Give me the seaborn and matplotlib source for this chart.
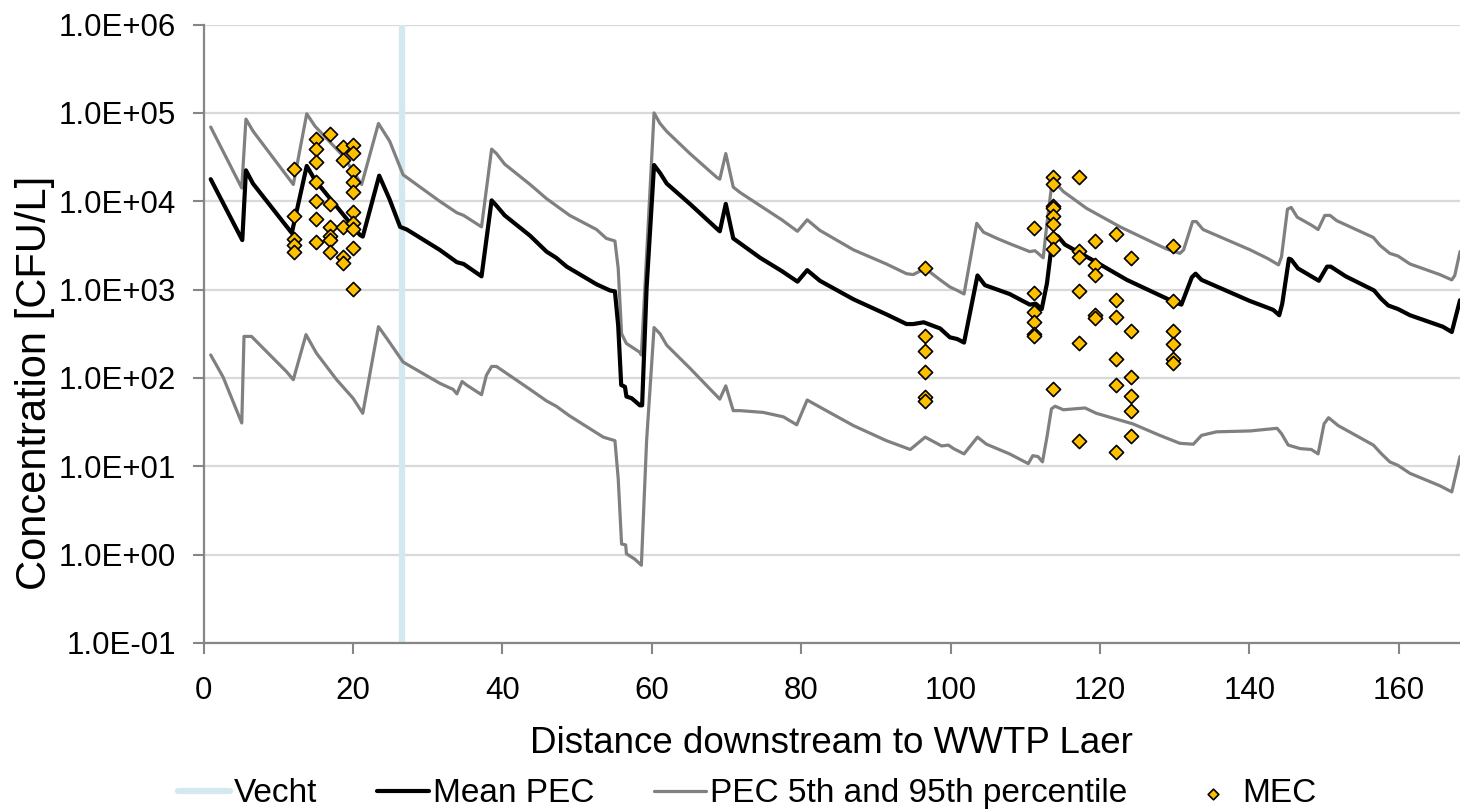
import matplotlib
matplotlib.use("Agg")
import numpy as np
import pandas as pd
import matplotlib.pyplot as plt
import seaborn as sns
from matplotlib.ticker import FixedLocator, FuncFormatter, NullLocator

# distance downstream of WWTP Laer [km]; concentrations as log10(CFU/L)
mean_km = [0.94, 5.17, 5.66, 6.6, 11.8, 13.8, 14.9, 20.9, 21.3, 23.5, 24.9, 26.3, 27.2, 31.6, 33.9,
           34.8, 37.2, 38.55, 39.2, 40.3, 43.7, 45.9, 47.2, 48.6, 52.6, 54.4, 55.06, 55.5, 55.9, 56.4,
           56.6, 57.3, 58.4, 58.7, 59.3, 60.3, 61.1, 62.0, 65.1, 68.7, 69.1, 69.9, 70.9, 74.5, 77.4,
           79.5, 80.8, 82.5, 87.0, 91.4, 94.1, 95.0, 96.4, 98.6, 99.9, 100.9, 101.8, 103.6, 104.6,
           107.9, 110.6, 111.4, 112.2, 112.9, 113.5, 114.0, 114.4, 115.3, 119.1, 123.6, 128.9, 129.9,
           130.9, 132.3, 132.8, 133.6, 140.1, 142.3, 143.2, 144.0, 144.4, 145.3, 145.6, 146.5, 148.5,
           149.3, 150.4, 150.9, 152.9, 156.7, 157.6, 158.6, 159.9, 161.5, 165.9, 167.1, 168.2]
mean_log = [4.25, 3.56, 4.35, 4.20, 3.64, 4.40, 4.24, 3.62, 3.60, 4.29, 4.02, 3.71, 3.68, 3.45, 3.31,
            3.29, 3.15, 4.01, 3.95, 3.84, 3.61, 3.43, 3.36, 3.26, 3.06, 2.99, 2.98, 2.59, 1.92, 1.90,
            1.79, 1.77, 1.69, 1.69, 3.02, 4.41, 4.32, 4.20, 3.97, 3.69, 3.66, 3.97, 3.58, 3.36, 3.21,
            3.09, 3.22, 3.10, 2.89, 2.72, 2.61, 2.61, 2.63, 2.56, 2.46, 2.44, 2.40, 3.16, 3.05,
            2.95, 2.83, 2.84, 2.78, 3.07, 3.48, 3.62, 3.60, 3.51, 3.33, 3.11, 2.90, 2.86,
            2.83, 3.14, 3.18, 3.11, 2.87, 2.80, 2.77, 2.71, 2.84, 3.35, 3.34, 3.24, 3.14,
            3.10, 3.26, 3.26, 3.15, 2.99, 2.90, 2.82, 2.78, 2.71, 2.58, 2.52, 2.88]

p95_km = [0.94, 5.1, 5.66, 6.64, 12.0, 13.8, 14.9, 18.7, 21.15, 23.4, 24.9, 26.7, 31.6, 33.9, 34.8,
          37.2, 38.55, 39.2, 40.3, 43.7, 45.9, 47.2, 49.0, 52.6, 53.9, 55.06, 55.5, 55.95, 56.6, 58.4,
          58.6, 60.3, 61.1, 62.0, 65.1, 68.7, 69.1, 69.9, 70.9, 71.8, 74.5, 77.4, 79.5, 80.8, 82.5,
          87.0, 91.4, 94.1, 95.0, 96.6, 98.6, 99.9, 100.9, 101.8, 103.5, 104.4, 106.2, 107.9, 110.6,
          111.3, 112.4, 112.9, 113.5, 114.0, 115.1, 118.2, 122.7, 128.9, 130.7, 131.2, 132.4, 132.9,
          133.8, 140.1, 142.5, 143.9, 144.3, 145.1, 145.6, 146.4, 148.3, 149.2, 150.1, 150.8, 151.7,
          156.6, 157.5, 158.8, 159.9, 161.5, 165.5, 167.1, 167.5, 168.2]
p95_log = [4.84, 4.15, 4.93, 4.79, 4.19, 4.99, 4.85, 4.51, 4.19, 4.88, 4.68, 4.30, 4.00, 3.87, 3.84,
           3.71, 4.59, 4.54, 4.42, 4.19, 4.03, 3.95, 3.84, 3.68, 3.58, 3.55, 3.24, 2.50, 2.39, 2.29,
           2.26, 5.00, 4.88, 4.79, 4.54, 4.27, 4.25, 4.54, 4.16, 4.10, 3.95, 3.79, 3.66, 3.79, 3.67,
           3.45, 3.29, 3.18, 3.17, 3.24, 3.11, 3.03, 2.99, 2.95, 3.75, 3.65, 3.58, 3.52, 3.43,
           3.44, 3.36, 3.75, 4.16, 4.21, 4.11, 3.92, 3.71, 3.46, 3.41, 3.45, 3.77, 3.77,
           3.68, 3.45, 3.35, 3.28, 3.37, 3.91, 3.93, 3.82, 3.73, 3.68, 3.84, 3.84, 3.78,
           3.59, 3.50, 3.41, 3.38, 3.29, 3.17, 3.11, 3.16, 3.43]

p5_km = [0.94, 2.6, 5.1, 5.4, 6.4, 11.1, 12.0, 13.7, 15.1, 17.8, 20.0, 21.3, 23.4, 24.5, 26.7, 31.6,
         33.4, 33.9, 34.6, 35.2, 37.2, 37.85, 38.55, 39.2, 43.7, 45.9, 47.2, 49.0, 53.5, 55.06, 55.5,
         55.95, 56.5, 56.6, 57.7, 58.6, 59.3, 60.3, 61.1, 62.0, 65.1, 69.1, 69.9, 70.9, 71.8, 74.9,
         77.6, 79.4, 80.8, 82.5, 87.0, 91.4, 94.6, 96.6, 98.8, 99.7, 100.4, 101.8, 103.6, 104.8,
         107.9, 110.4, 111.0, 111.7, 112.3, 112.9, 113.5, 114.0, 115.1, 118.0, 119.5, 124.4, 128.0,
         130.7, 132.5, 133.6, 135.6, 140.1, 143.7, 144.3, 145.2, 146.8, 148.3, 149.2, 150.0, 150.6,
         151.9, 156.6, 157.7, 158.8, 159.9, 161.5, 165.5, 167.1, 168.2]
p5_log = [2.26, 2.01, 1.49, 2.47, 2.47, 2.07, 1.98, 2.49, 2.28, 1.98, 1.77, 1.60, 2.58, 2.45, 2.18, 1.94,
          1.87, 1.82, 1.96, 1.92, 1.81, 2.03, 2.13, 2.13, 1.87, 1.74, 1.68, 1.57, 1.33, 1.29, 0.86,
          0.12, 0.11, 0.01, -0.05, -0.12, 1.29, 2.57, 2.50, 2.37, 2.11, 1.76, 1.91, 1.63, 1.63, 1.61,
          1.56, 1.47, 1.75, 1.67, 1.46, 1.29, 1.19, 1.33, 1.23, 1.24, 1.20, 1.14, 1.33, 1.25,
          1.14, 1.03, 1.12, 1.11, 1.05, 1.33, 1.65, 1.68, 1.64, 1.66, 1.60, 1.48, 1.35,
          1.26, 1.25, 1.35, 1.39, 1.40, 1.43, 1.37, 1.24, 1.20, 1.19, 1.14, 1.48, 1.55,
          1.46, 1.24, 1.14, 1.05, 1.01, 0.92, 0.78, 0.71, 1.11]

# measured concentrations (MEC), sampling locations in km
mec_km = ([12.1] * 5 + [15.1] * 7 + [16.9] * 6 + [18.6] * 5 + [20.0] * 10 + [96.6] * 6
          + [111.2] * 6 + [113.65] * 9 + [117.2] * 6 + [119.4] * 5 + [122.2] * 6 + [124.1] * 6
          + [129.8] * 6)
mec_log = [4.36, 3.83, 3.57, 3.50, 3.42,
           4.71, 4.59, 4.45, 4.22, 4.00, 3.80, 3.54,
           4.76, 3.97, 3.71, 3.61, 3.56, 3.42,
           4.61, 4.47, 3.71, 3.37, 3.30,
           4.64, 4.55, 4.34, 4.22, 4.10, 3.88, 3.75, 3.69, 3.47, 3.01,
           3.25, 2.47, 2.31, 2.07, 1.78, 1.74,
           3.70, 2.96, 2.75, 2.63, 2.50, 2.48,
           4.28, 4.20, 3.95, 3.92, 3.83, 3.74, 3.58, 3.46, 1.88,
           4.28, 3.44, 3.37, 2.98, 2.40, 1.29,
           3.55, 3.28, 3.16, 2.71, 2.68,
           3.63, 2.88, 2.69, 2.21, 1.92, 1.16,
           3.36, 2.53, 2.01, 1.80, 1.63, 1.34,
           3.49, 2.87, 2.53, 2.38, 2.21, 2.17]

vecht_km = 26.6
x_ticks = [0, 20, 40, 60, 80, 100, 120, 140, 160]
y_ticks = [1e-1, 1e0, 1e1, 1e2, 1e3, 1e4, 1e5, 1e6]

mean_df = pd.DataFrame({"km": mean_km, "conc": np.power(10.0, mean_log)})
p95_df = pd.DataFrame({"km": p95_km, "conc": np.power(10.0, p95_log)})
p5_df = pd.DataFrame({"km": p5_km, "conc": np.power(10.0, p5_log)})
mec_df = pd.DataFrame({"km": mec_km, "conc": np.power(10.0, mec_log)})

sns.set_theme(style="white")
plt.rcParams["font.family"] = ["Liberation Sans", "DejaVu Sans"]
plt.rcParams["text.color"] = "black"
plt.rcParams["axes.labelcolor"] = "black"

fig = plt.figure(figsize=(14.6, 8.11), dpi=100)
ax = fig.add_axes([0.1395, 0.2072, 0.8605, 0.7625])

grey = "#808080"
ax.axvline(vecht_km, color="#D3E9EF", lw=4.5, zorder=1, label="Vecht")
sns.lineplot(data=mean_df, x="km", y="conc", ax=ax, color="black", lw=3.0,
             estimator=None, sort=False, label="Mean PEC", zorder=3,
             solid_joinstyle="round", solid_capstyle="round")
sns.lineplot(data=p95_df, x="km", y="conc", ax=ax, color=grey, lw=2.3,
             estimator=None, sort=False, label="PEC 5th and 95th percentile", zorder=2,
             solid_joinstyle="round", solid_capstyle="round")
sns.lineplot(data=p5_df, x="km", y="conc", ax=ax, color=grey, lw=2.3,
             estimator=None, sort=False, zorder=2,
             solid_joinstyle="round", solid_capstyle="round")
sns.scatterplot(data=mec_df, x="km", y="conc", ax=ax, marker="D", s=52, color="#FFC000",
                edgecolor="black", linewidth=1.2, label="MEC", zorder=4)

ax.set_yscale("log")
ax.set_xlim(0, 168.2)
ax.set_ylim(1e-1, 1e6)
ax.xaxis.set_major_locator(FixedLocator(x_ticks))
ax.yaxis.set_major_locator(FixedLocator(y_ticks))
ax.yaxis.set_minor_locator(NullLocator())
ax.yaxis.set_major_formatter(FuncFormatter(lambda v, p: f"{v:.1E}"))

ax.grid(axis="y", color="#D9D9D9", lw=1.6, zorder=0)
ax.grid(axis="x", visible=False)
ax.set_axisbelow(True)
for side in ["top", "right"]:
    ax.spines[side].set_visible(False)
for side in ["left", "bottom"]:
    ax.spines[side].set_color("#868686")
    ax.spines[side].set_linewidth(1.6)
ax.tick_params(axis="both", which="major", direction="out", length=8, width=1.5,
               color="#868686", labelsize=22.5, labelcolor="black", left=True, bottom=True)
ax.tick_params(axis="y", pad=12)
ax.tick_params(axis="x", pad=16)

ax.set_xlabel("Distance downstream to WWTP Laer", fontsize=26.5, labelpad=14)
ax.set_ylabel("Concentration [CFU/L]", fontsize=30)
ax.yaxis.set_label_coords(-0.118, 0.42)

handles, labels = ax.get_legend_handles_labels()
if ax.get_legend() is not None:
    ax.get_legend().remove()
fig.legend(handles, labels, loc="lower center", bbox_to_anchor=(0.512, -0.035), ncol=4,
           frameon=False, fontsize=24, handlelength=1.55, handletextpad=0.12,
           columnspacing=1.8, markerscale=0.75)

fig.savefig("out.png", dpi=100)
